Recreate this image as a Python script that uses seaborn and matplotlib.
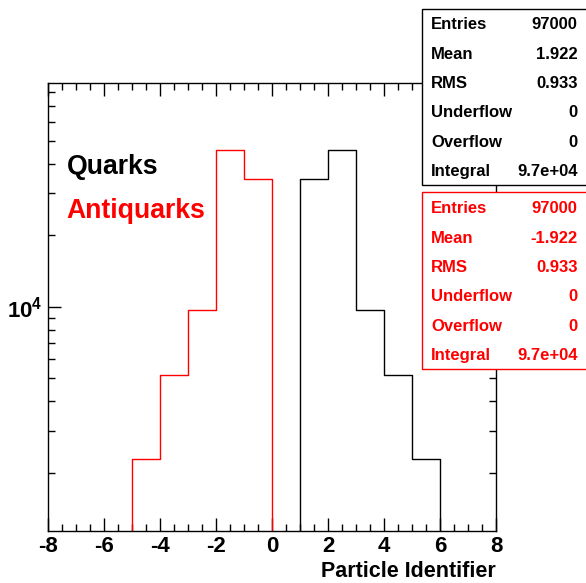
import numpy as np
import pandas as pd
import matplotlib
matplotlib.use("Agg")
import matplotlib.pyplot as plt
from matplotlib.ticker import LogLocator, MultipleLocator, NullFormatter
from matplotlib.patches import Rectangle
import seaborn as sns

# ---------------- data ----------------
quark_ids = [1, 2, 3, 4, 5]
quark_counts = [34350, 45550, 9660, 5150, 2290]
antiquark_ids = [-1, -2, -3, -4, -5]
antiquark_counts = [34350, 45550, 9660, 5150, 2290]
bin_edges = list(range(-8, 9))

stat_labels = ["Entries", "Mean", "RMS", "Underflow", "Overflow", "Integral"]
quark_stats = ["97000", "1.922", "0.933", "0", "0", "9.7e+04"]
antiquark_stats = ["97000", "-1.922", "0.933", "0", "0", "9.7e+04"]

x_major = [-8, -6, -4, -2, 0, 2, 4, 6, 8]
x_major_labels = ["-8", "-6", "-4", "-2", "0", "2", "4", "6", "8"]
y_major = [1e4]
y_major_labels = [r"$\mathbf{10^{4}}$"]

# ---------------- style ----------------
sns.set_style("ticks")
plt.rcParams["font.family"] = ["Liberation Sans", "DejaVu Sans"]
plt.rcParams["font.weight"] = "bold"
plt.rcParams["axes.unicode_minus"] = False
plt.rcParams["text.color"] = "black"
plt.rcParams["axes.labelcolor"] = "black"
plt.rcParams["xtick.color"] = "black"
plt.rcParams["ytick.color"] = "black"
plt.rcParams["axes.edgecolor"] = "black"
plt.rcParams["mathtext.fontset"] = "custom"
plt.rcParams["mathtext.rm"] = "Liberation Sans:bold"
plt.rcParams["mathtext.bf"] = "Liberation Sans:bold"
plt.rcParams["mathtext.it"] = "Liberation Sans:bold"

W, H = 586, 583
fig = plt.figure(figsize=(W / 100, H / 100), dpi=100)
fig.patch.set_facecolor("white")

L, R, T, B = 48.3, 496.0, 83.3, 531.0
ax = fig.add_axes([L / W, 1 - B / H, (R - L) / W, (B - T) / H])

df_q = pd.DataFrame({"pid": quark_ids, "count": quark_counts})
df_a = pd.DataFrame({"pid": antiquark_ids, "count": antiquark_counts})

sns.histplot(data=df_q, x="pid", weights="count", bins=bin_edges,
             element="step", fill=False, color="black", linewidth=1.0, ax=ax)
sns.histplot(data=df_a, x="pid", weights="count", bins=bin_edges,
             element="step", fill=False, color="red", linewidth=1.0, ax=ax)

ax.set_yscale("log")
ax.set_xlim(-8, 8)
ax.set_ylim(1138, 87060)

ax.set_xticks(x_major, x_major_labels, fontsize=16, fontweight="bold", color="black")
ax.xaxis.set_minor_locator(MultipleLocator(0.5))
ax.set_yticks(y_major, y_major_labels, fontsize=16, color="black")
ax.yaxis.set_minor_locator(LogLocator(base=10, subs=np.arange(2, 10)))
ax.yaxis.set_minor_formatter(NullFormatter())

ax.tick_params(which="both", direction="in", top=True, right=True, width=1.0,
               color="black", labelcolor="black")
ax.tick_params(which="major", length=9.6)
ax.tick_params(axis="x", which="major", pad=3.5)
ax.tick_params(axis="y", which="major", pad=4)
ax.tick_params(which="minor", length=4.8)

for sp in ax.spines.values():
    sp.set_visible(True)
    sp.set_linewidth(1.0)
    sp.set_color("black")

ax.set_ylabel("")
ax.set_xlabel("Particle Identifier", loc="right", fontsize=15.5, fontweight="bold",
              labelpad=3, color="black")

# legend-like labels
fig.text(66.5 / W, 1 - 174.3 / H, "Quarks", color="black", fontsize=19.2,
         fontweight="bold", va="baseline", ha="left")
fig.text(66.0 / W, 1 - 217.7 / H, "Antiquarks", color="red", fontsize=19.2,
         fontweight="bold", va="baseline", ha="left")

# stats boxes
def stat_box(top, bottom, color, values, first_baseline):
    fig.patches.append(Rectangle((422.3 / W, 1 - bottom / H), (W - 422.3 + 5) / W,
                                 (bottom - top) / H, transform=fig.transFigure,
                                 facecolor="white", edgecolor=color, linewidth=1.0,
                                 zorder=5))
    for i, (lab, val) in enumerate(zip(stat_labels, values)):
        yb = first_baseline + i * 29.35
        fig.text(431 / W, 1 - yb / H, lab, color=color, fontsize=12,
                 fontweight="bold", va="baseline", ha="left", zorder=6)
        fig.text(577.7 / W, 1 - yb / H, val, color=color, fontsize=12,
                 fontweight="bold", va="baseline", ha="right", zorder=6)

stat_box(9.0, 185.0, "black", quark_stats, 29.3)
stat_box(192.0, 369.3, "red", antiquark_stats, 213.3)

fig.savefig("out.png", dpi=100, facecolor="white")
